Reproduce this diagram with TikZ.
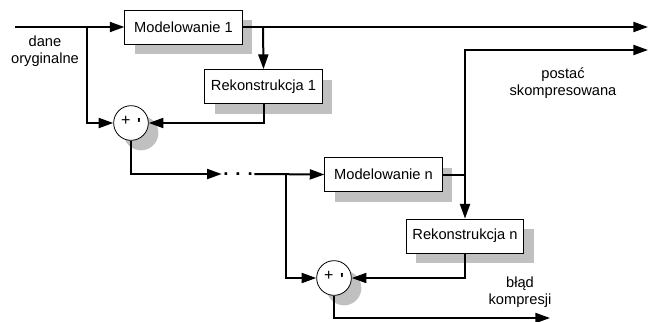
\documentclass[tikz,border=0pt]{standalone}
\usepackage{fontspec}
\setmainfont{Liberation Sans}
\usetikzlibrary{arrows.meta,shadows}
\definecolor{shadowgray}{RGB}{192,192,192}
\tikzset{stage/.style={draw=black,line width=0.6pt,fill=white,inner sep=0pt,
    minimum width=88pt,minimum height=25.5pt,font=\fontsize{11}{13}\selectfont,
    drop shadow={shadow xshift=7.5pt,shadow yshift=-7.5pt,fill=shadowgray,opacity=1}},
  adder/.style={circle,draw=black,line width=0.6pt,fill=white,inner sep=0pt,
    minimum size=26pt,font=\fontsize{12}{14}\selectfont,
    drop shadow={shadow xshift=7.5pt,shadow yshift=-7.5pt,fill=shadowgray,opacity=1}},
  note/.style={align=center,font=\fontsize{11}{12.75}\selectfont},
  flow/.style={line width=1.5pt},
  arrow/.style={flow,-{Triangle[length=11pt,width=7.5pt]}}}

\begin{document}
\begin{tikzpicture}[x=0.75pt,y=-0.75pt]
  \useasboundingbox (0,0) rectangle (648,321);
  % first stage
  \node[stage] (model1) at (183.5,27) {Modelowanie 1};
  \node[stage] (recon1) at (263.5,86.5) {Rekonstrukcja 1};
  \node[adder] (sum1) at (131,123) {+\hspace{5pt}\raisebox{-0.45ex}{\textbf{\textquotesingle}}};
  \coordinate (in) at (15,27);
  \coordinate (split1) at (87,27);
  \coordinate (tap1) at (263,27);
  \coordinate (out1) at (648,27);
  \draw[arrow] (in) -- (model1.west);
  \draw[arrow] (split1) |- (sum1.west);
  \draw[arrow] (model1.east) -- (out1);
  \draw[arrow] (tap1) -- (recon1.north);
  \draw[arrow] (recon1.south) |- (sum1.east);
  \node[note] (orig) at (45,51) {dane\\oryginalne};
  % middle
  \node[font=\bfseries\fontsize{14}{14}\selectfont,inner sep=1pt] (dots) at (238,174) {. . .};
  \draw[arrow] (sum1.south) |- (dots.west);
  % last stage
  \node[stage] (modeln) at (383.5,174.5) {Modelowanie n};
  \node[stage] (reconn) at (465,236) {Rekonstrukcja n};
  \node[adder] (sumn) at (334,278) {+\hspace{5pt}\raisebox{-0.45ex}{\textbf{\textquotesingle}}};
  \coordinate (splitn) at (286,174.5);
  \coordinate (tapn) at (465,174.5);
  \coordinate (out2) at (648,50);
  \coordinate (errout) at (550,318);
  \draw[arrow] (dots.east) -- (modeln.west);
  \draw[arrow] (splitn) |- (sumn.west);
  \draw[flow] (modeln.east) -- (tapn);
  \draw[arrow] (tapn) |- (out2);
  \draw[arrow] (tapn) -- (reconn.north);
  \draw[arrow] (reconn.south) |- (sumn.east);
  \draw[arrow] (sumn.south) |- (errout);
  \node[note] (packed) at (563,83) {postać\\skompresowana};
  \node[note] (error) at (520,292) {błąd\\kompresji};
\end{tikzpicture}
\end{document}
